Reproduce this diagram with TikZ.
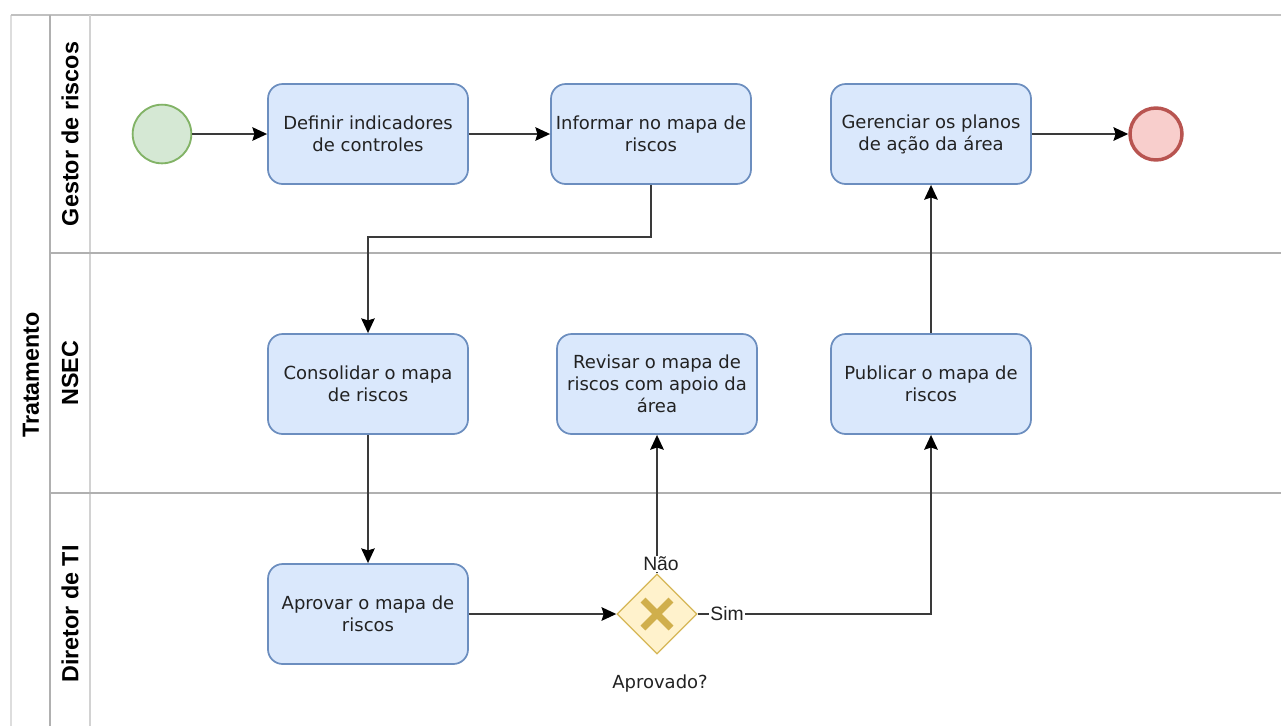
\documentclass[tikz,border=0pt]{standalone}
\usepackage{fontspec}
\setmainfont{DejaVu Sans}
\newfontfamily\lanefont{Liberation Sans}
\usetikzlibrary{arrows.meta,shapes.geometric}
\definecolor{taskfill}{HTML}{DAE8FC}
\definecolor{taskdraw}{HTML}{6C8EBF}
\definecolor{startfill}{HTML}{D5E8D4}
\definecolor{startdraw}{HTML}{82B366}
\definecolor{endfill}{HTML}{F8CECC}
\definecolor{enddraw}{HTML}{B85450}
\definecolor{gwfill}{HTML}{FFF2CC}
\definecolor{gwdraw}{HTML}{D6B656}
\definecolor{gwmark}{HTML}{D0AF4C}
\definecolor{edgecol}{HTML}{3A3A3A}
\definecolor{poolline}{HTML}{DDDDDD}
\definecolor{laneline}{HTML}{B0B0B0}
\definecolor{innerline}{HTML}{D2D2D2}
\definecolor{txt}{HTML}{222222}
\tikzset{
  task/.style={draw=taskdraw, fill=taskfill, line width=1.3pt, rounded corners=11pt,
    minimum width=150pt, minimum height=75pt, align=center, inner sep=2pt, text=txt,
    font=\fontsize{13.5pt}{16.5pt}\selectfont},
  startev/.style={circle, draw=startdraw, fill=startfill, line width=1.4pt, minimum size=44pt, inner sep=0pt},
  endev/.style={circle, draw=enddraw, fill=endfill, line width=2.6pt, minimum size=39pt, inner sep=0pt},
  gateway/.style={diamond, aspect=1, draw=gwdraw, fill=gwfill, line width=1pt, minimum width=60pt, minimum height=60pt, inner sep=0pt},
  flow/.style={draw=edgecol, line width=1.9pt, -{Stealth[inset=1.5pt,length=11pt,width=10pt,color=black,fill=black]}},
  lanelabel/.style={rotate=90, font=\lanefont\bfseries\fontsize{17.5pt}{20pt}\selectfont, text=black},
  edgelabel/.style={fill=white, inner sep=1pt, text=txt, font=\lanefont\fontsize{14.5pt}{16pt}\selectfont},
  plainlabel/.style={text=txt, font=\fontsize{13.5pt}{16.5pt}\selectfont},
}
\begin{document}
\begin{tikzpicture}[x=0.75pt,y=-0.75pt]
\useasboundingbox (0,0) rectangle (1281,726);
\fill[white] (0,0) rectangle (1281,726);
% pool and lanes
\draw[poolline, line width=1.2pt] (11,15) -- (11,726);
\draw[laneline!80, line width=1.2pt] (11,15) -- (1281,15);
\draw[laneline, line width=1.6pt] (50,15) -- (50,726);
\draw[innerline, line width=1.6pt] (90,15) -- (90,726);
\draw[laneline, line width=1.6pt] (50,253) -- (1281,253);
\draw[laneline, line width=1.6pt] (50,493) -- (1281,493);
\node[lanelabel] (pool) at (31,375) {Tratamento};
\node[lanelabel] (l1) at (70,134) {Gestor de riscos};
\node[lanelabel] (l2) at (70,373) {NSEC};
\node[lanelabel] (l3) at (70,614) {Diretor de TI};
% events and tasks
\node[startev] (start) at (162,134) {};
\node[task] (t1) at (368,134) {Definir indicadores\\de controles};
\node[task] (t2) at (651,134) {Informar no mapa de\\riscos};
\node[task] (t3) at (931,134) {Gerenciar os planos\\de ação da área};
\node[endev] (end) at (1156,134) {};
\node[task] (t4) at (368,384) {Consolidar o mapa\\de riscos};
\node[task] (t5) at (657,384) {Revisar o mapa de\\riscos com apoio da\\área};
\node[task] (t6) at (931,384) {Publicar o mapa de\\riscos};
\node[task] (t7) at (368,614) {Aprovar o mapa de\\riscos};
\node[gateway] (gw) at (657,614) {};
\draw[gwmark, line width=5.2pt] ([shift={(-14,-14)}]gw.center) -- ([shift={(14,14)}]gw.center);
\draw[gwmark, line width=5.2pt] ([shift={(-14,14)}]gw.center) -- ([shift={(14,-14)}]gw.center);
\node[plainlabel] (gwlabel) at (660,684) {Aprovado?};
% flows
\draw[flow] (start) -- (t1);
\draw[flow] (t1) -- (t2);
\draw[flow] (t2.south) -- ++(0,52) -| (t4.north);
\draw[flow] (t4) -- (t7);
\draw[flow] (t7) -- (gw);
\draw[flow] (gw.east) -| (t6.south);
\draw[flow] (gw.north) -- (t5.south);
\draw[flow] (t6) -- (t3);
\draw[flow] (t3) -- (end);
\node[edgelabel] (sim) at (727,614) {Sim};
\node[edgelabel] (nao) at (661,564) {Não};
\end{tikzpicture}
\end{document}
